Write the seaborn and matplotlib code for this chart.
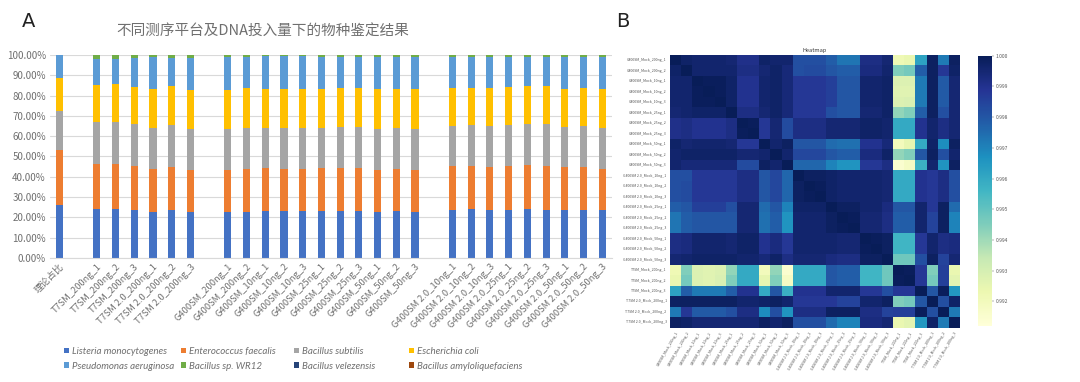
import numpy as np
import pandas as pd
import matplotlib
matplotlib.use("Agg")
import matplotlib.pyplot as plt
from matplotlib.patches import Patch
from matplotlib.ticker import FuncFormatter
import seaborn as sns

# ---------------- panel A data (percent of reads) ----------------
samples = ["理论占比", None,
           "T7SM_200ng_1", "T7SM_200ng_2", "T7SM_200ng_3",
           "T7SM 2.0_200ng_1", "T7SM 2.0_200ng_2", "T7SM 2.0_200ng_3", None,
           "G400SM_200ng_1", "G400SM_200ng_2",
           "G400SM_10ng_1", "G400SM_10ng_2", "G400SM_10ng_3",
           "G400SM_25ng_1", "G400SM_25ng_2", "G400SM_25ng_3",
           "G400SM_50ng_1", "G400SM_50ng_2", "G400SM_50ng_3", None,
           "G400SM 2.0_10ng_1", "G400SM 2.0_10ng_2", "G400SM 2.0_10ng_3",
           "G400SM 2.0_25ng_1", "G400SM 2.0_25ng_2", "G400SM 2.0_25ng_3",
           "G400SM 2.0_50ng_1", "G400SM 2.0_50ng_2", "G400SM 2.0_50ng_3"]

species = ["Listeria monocytogenes", "Enterococcus faecalis", "Bacillus subtilis",
           "Escherichia coli", "Pseudomonas aeruginosa", "Bacillus sp. WR12",
           "Bacillus velezensis", "Bacillus amyloliquefaciens"]
species_colors = ["#4472C4", "#ED7D31", "#A5A5A5", "#FFC000",
                  "#5B9BD5", "#70AD47", "#264478", "#9E480E"]

listeria = [26.0, 24.0, 24.0, 23.7, 22.7, 23.4, 22.7,
            22.5, 22.5, 23.2, 23.2, 22.9, 22.9, 23.2, 23.2, 22.7, 23.0, 22.5,
            23.7, 24.0, 23.7, 23.7, 24.0, 23.8, 23.7, 23.4, 23.4]
enterococcus = [27.1, 22.2, 22.4, 21.7, 21.1, 21.3, 20.4,
                20.6, 21.1, 20.9, 20.4, 20.9, 21.2, 21.2, 21.2, 20.7, 20.8, 20.8,
                21.5, 21.1, 21.2, 21.5, 21.6, 21.6, 21.2, 21.5, 20.5]
subtilis = [19.3, 20.7, 20.7, 20.6, 20.3, 20.8, 20.2,
            20.2, 20.5, 20.0, 20.4, 20.0, 20.0, 20.1, 20.1, 19.9, 20.2, 20.2,
            19.8, 20.2, 19.9, 20.1, 20.4, 20.4, 19.6, 20.1, 20.2]
ecoli = [16.2, 18.1, 18.4, 18.4, 19.0, 19.0, 19.6,
         19.4, 19.6, 19.3, 19.4, 19.6, 19.3, 19.4, 19.4, 19.8, 19.4, 19.9,
         18.9, 18.6, 18.8, 18.9, 18.7, 18.9, 18.9, 18.9, 19.3]
pseudomonas = [11.4, 13.0, 12.4, 14.0, 15.7, 13.9, 15.8,
               16.1, 15.5, 16.1, 16.1, 16.1, 15.4, 15.3, 14.9, 15.7, 15.8, 15.4,
               14.9, 15.3, 15.6, 14.6, 14.5, 14.5, 15.8, 15.3, 15.8]
wr12 = [0.0, 1.8, 1.9, 1.4, 1.0, 1.4, 1.1,
        1.0, 0.6, 0.3, 0.3, 0.3, 1.0, 0.7, 1.0, 1.0, 0.7, 1.0,
        1.0, 0.7, 0.6, 1.0, 0.6, 0.6, 0.6, 0.7, 0.7]
velezensis = [0.0, 0.1, 0.1, 0.1, 0.1, 0.1, 0.1,
              0.1, 0.1, 0.1, 0.1, 0.1, 0.1, 0.1, 0.1, 0.1, 0.1, 0.1,
              0.1, 0.1, 0.1, 0.1, 0.1, 0.1, 0.1, 0.1, 0.1]
amyloliquefaciens = [0.0, 0.1, 0.1, 0.1, 0.1, 0.1, 0.1,
                     0.1, 0.1, 0.1, 0.1, 0.1, 0.1, 0.1, 0.1, 0.1, 0.1, 0.1,
                     0.1, 0.1, 0.1, 0.1, 0.1, 0.1, 0.1, 0.1, 0.1]

# ---------------- panel B data (similarity, value = 0.99 + k/10000) ----------------
hm_labels = (["G400SM_Mock_200ng_1", "G400SM_Mock_200ng_2"]
             + [f"G400SM_Mock_{d}ng_{r}" for d in (10, 25, 50) for r in (1, 2, 3)]
             + [f"G400SM 2.0_Mock_{d}ng_{r}" for d in (10, 25, 50) for r in (1, 2, 3)]
             + [f"T7SM_Mock_200ng_{r}" for r in (1, 2, 3)]
             + [f"T7SM 2.0_Mock_200ng_{r}" for r in (1, 2, 3)])

hm_k = [
    [100, 97, 96, 96, 96, 95, 91, 91, 97, 96, 96, 82, 82, 82, 78, 73, 73, 92, 92, 95, 22, 24, 62, 98, 72, 98],
    [97, 100, 96, 96, 96, 96, 92, 92, 95, 97, 94, 82, 83, 83, 80, 78, 78, 93, 93, 96, 45, 47, 78, 98, 88, 97],
    [96, 96, 100, 99, 99, 97, 90, 90, 96, 97, 94, 88, 88, 88, 86, 80, 80, 96, 96, 97, 28, 28, 72, 98, 79, 95],
    [96, 96, 99, 100, 99, 97, 90, 90, 96, 97, 94, 88, 88, 88, 86, 80, 80, 96, 96, 97, 27, 27, 72, 98, 79, 95],
    [96, 96, 99, 99, 100, 97, 90, 90, 96, 97, 94, 88, 88, 88, 86, 80, 80, 96, 96, 97, 28, 29, 72, 98, 79, 95],
    [95, 96, 97, 97, 97, 100, 92, 92, 95, 97, 94, 88, 88, 88, 82, 80, 80, 95, 95, 97, 42, 45, 78, 98, 82, 95],
    [91, 92, 90, 90, 90, 92, 100, 99, 88, 95, 83, 92, 92, 92, 95, 95, 95, 97, 97, 96, 60, 60, 90, 96, 92, 95],
    [91, 92, 90, 90, 90, 92, 99, 100, 88, 95, 83, 92, 92, 92, 95, 95, 95, 97, 97, 96, 60, 60, 90, 96, 92, 95],
    [97, 95, 96, 96, 96, 95, 88, 88, 100, 96, 98, 80, 80, 80, 75, 74, 74, 90, 90, 94, 20, 25, 60, 97, 68, 98],
    [96, 97, 97, 97, 97, 97, 95, 95, 96, 100, 96, 84, 84, 84, 80, 78, 78, 93, 93, 97, 42, 45, 80, 98, 82, 96],
    [96, 94, 94, 94, 94, 94, 83, 83, 98, 96, 100, 76, 76, 76, 70, 66, 66, 88, 88, 92, 15, 18, 58, 96, 66, 98],
    [82, 82, 88, 88, 88, 88, 92, 92, 80, 84, 76, 100, 98, 98, 97, 96, 96, 96, 96, 95, 60, 60, 90, 88, 92, 82],
    [82, 83, 88, 88, 88, 88, 92, 92, 80, 84, 76, 98, 100, 99, 97, 96, 96, 96, 96, 95, 60, 60, 90, 88, 92, 82],
    [82, 83, 88, 88, 88, 88, 92, 92, 80, 84, 76, 98, 99, 100, 97, 96, 96, 96, 96, 95, 60, 60, 90, 88, 92, 82],
    [78, 80, 86, 86, 86, 82, 95, 95, 75, 80, 70, 97, 97, 97, 100, 98, 98, 96, 96, 93, 80, 80, 96, 88, 98, 75],
    [73, 78, 80, 80, 80, 80, 95, 95, 74, 78, 66, 96, 96, 96, 98, 100, 99, 95, 95, 92, 78, 78, 96, 85, 98, 70],
    [73, 78, 80, 80, 80, 80, 95, 95, 74, 78, 66, 96, 96, 96, 98, 99, 100, 95, 95, 92, 78, 78, 96, 85, 98, 70],
    [92, 93, 96, 96, 96, 95, 97, 97, 90, 93, 88, 96, 96, 96, 96, 95, 95, 100, 99, 98, 56, 56, 88, 96, 92, 93],
    [92, 93, 96, 96, 96, 95, 97, 97, 90, 93, 88, 96, 96, 96, 96, 95, 95, 99, 100, 98, 56, 56, 88, 96, 92, 93],
    [95, 96, 97, 97, 97, 97, 96, 96, 94, 97, 92, 95, 95, 95, 93, 92, 92, 98, 98, 100, 48, 48, 82, 98, 85, 95],
    [22, 45, 28, 27, 28, 42, 60, 60, 20, 42, 15, 60, 60, 60, 80, 78, 78, 56, 56, 48, 100, 99, 88, 45, 86, 24],
    [24, 47, 28, 27, 29, 45, 60, 60, 25, 45, 18, 60, 60, 60, 80, 78, 78, 56, 56, 48, 99, 100, 88, 47, 86, 26],
    [62, 78, 72, 72, 72, 78, 90, 90, 60, 80, 58, 90, 90, 90, 96, 96, 96, 88, 88, 82, 88, 88, 100, 80, 99, 65],
    [98, 98, 98, 98, 98, 98, 96, 96, 97, 98, 96, 88, 88, 88, 88, 85, 85, 96, 96, 98, 45, 47, 80, 100, 82, 97],
    [72, 88, 79, 79, 79, 82, 92, 92, 68, 82, 66, 92, 92, 92, 98, 98, 98, 92, 92, 85, 86, 86, 99, 82, 100, 72],
    [98, 97, 95, 95, 95, 95, 95, 95, 98, 96, 98, 82, 82, 82, 75, 70, 70, 93, 93, 95, 24, 26, 65, 97, 72, 100],
]
cbar_ticks = [0.992, 0.993, 0.994, 0.995, 0.996, 0.997, 0.998, 0.999, 1.000]

# ---------------- style ----------------
sns.set_style("white")
plt.rcParams["font.family"] = ["Noto Sans CJK SC", "DejaVu Sans"]
GRAY = "#6f6f6f"

fig = plt.figure(figsize=(10.8, 3.82), dpi=100)

# ---------------- panel A: stacked bars ----------------
ax = fig.add_axes([0.0463, 0.325, 0.520, 0.531])

order = []
gap = 0
for s in samples:
    if s is None:
        gap += 1
        order.append(" " * gap)
    else:
        order.append(s)
bar_names = [s for s in samples if s is not None]

values = np.array([listeria, enterococcus, subtilis, ecoli, pseudomonas,
                   wr12, velezensis, amyloliquefaciens])
cum = np.cumsum(values, axis=0)

# draw the tallest cumulative level first, then cover it with lower levels
for k in range(len(species) - 1, -1, -1):
    df = pd.DataFrame({"sample": bar_names, "val": cum[k]})
    sns.barplot(data=df, x="sample", y="val", order=order, color=species_colors[k],
                saturation=1, width=0.38, linewidth=0, errorbar=None, ax=ax)

ax.set_ylim(0, 100)
ax.set_yticks(np.arange(0, 101, 10))
ax.yaxis.set_major_formatter(FuncFormatter(lambda v, p: f"{v:.2f}%"))
ax.grid(axis="y", color="#d9d9d9", linewidth=0.8)
ax.set_axisbelow(True)
for side in ["left", "right", "top"]:
    ax.spines[side].set_visible(False)
ax.spines["bottom"].set_color("#d9d9d9")
ax.set_xlabel("")
ax.set_ylabel("")
ax.tick_params(axis="both", length=0, colors=GRAY, labelsize=7, pad=3)
ax.set_xticks(range(len(order)))
ax.set_xticklabels(order, rotation=45, ha="right", rotation_mode="anchor", fontsize=6.7)

fig.text(263 / 1080, 1 - 32 / 382, "不同测序平台及DNA投入量下的物种鉴定结果",
         ha="center", va="center", fontsize=10.5, color=GRAY)
fig.text(22 / 1080, 1 - 27 / 382, "A", fontsize=14, color="#222222", va="baseline",
         family=["DejaVu Sans"])
fig.text(616 / 1080, 1 - 27 / 382, "B", fontsize=14, color="#222222", va="baseline",
         family=["DejaVu Sans"])

# legend: four columns, two rows
leg_order = [[0, 4], [1, 5], [2, 6], [3, 7]]
col_x = [64, 181, 294, 409]
for cols, x in zip(leg_order, col_x):
    handles = [Patch(facecolor=species_colors[i], edgecolor="none", label=species[i]) for i in cols]
    leg = fig.legend(handles=handles, loc="upper left", bbox_to_anchor=(x / 1080, 1 - 347 / 382),
                     frameon=False, prop={"family": "Lato", "style": "italic", "size": 7},
                     handlelength=0.55, handleheight=0.55, handletextpad=0.3,
                     labelspacing=0.6, borderpad=0, borderaxespad=0)
    for t in leg.get_texts():
        t.set_color(GRAY)

# ---------------- panel B: heatmap ----------------
hax = fig.add_axes([670 / 1080, 1 - 327.7 / 382, 290 / 1080, 272.7 / 382])
cax = fig.add_axes([978 / 1080, 1 - 326 / 382, 14 / 1080, 270.3 / 382])

sim = 0.99 + np.array(hm_k) / 10000.0
sim_df = pd.DataFrame(sim, index=hm_labels, columns=hm_labels)
sns.heatmap(sim_df, cmap="YlGnBu", vmin=0.9912, vmax=1.0, ax=hax, cbar_ax=cax,
            xticklabels=True, yticklabels=True, cbar_kws={"ticks": cbar_ticks})
hax.set_title("Heatmap", fontsize=4, pad=2, color="#333333")
hax.tick_params(axis="both", length=1.5, width=0.3, labelsize=2.5, pad=1, colors="#555555")
plt.setp(hax.get_xticklabels(), rotation=60, ha="right", rotation_mode="anchor")
plt.setp(hax.get_yticklabels(), rotation=0)
cax.tick_params(length=1.5, width=0.3, labelsize=3.5, pad=1, colors="#555555")
cax.set_yticklabels([f"{t:.3f}" for t in cbar_ticks])
hax.collections[0].colorbar.outline.set_visible(False)

fig.savefig("out.png", dpi=100)
